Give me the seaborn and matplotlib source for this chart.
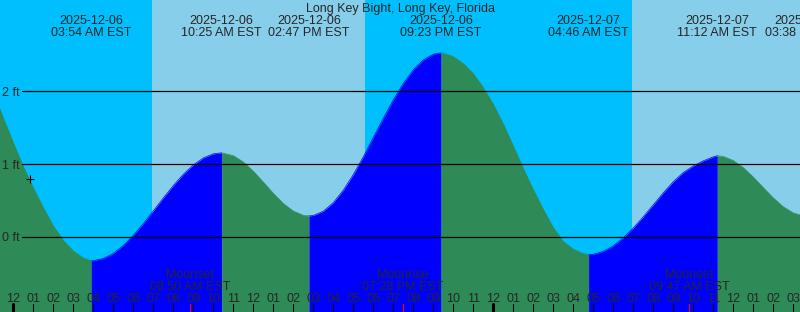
import numpy as np
import pandas as pd
import matplotlib
matplotlib.use("Agg")
import matplotlib.pyplot as plt
import seaborn as sns

# ---------------- data (hours since 2025-12-06 00:00 EST) ----------------
title = "Long Key Bight, Long Key, Florida"

tide_hours = [-1, -0.5, 0, 0.5, 1, 1.5, 2, 2.5, 3, 3.5, 3.9, 4, 4.5, 5, 5.5, 6,
              6.5, 7, 7.5, 8, 8.5, 9, 9.5, 10, 10.417, 11, 11.5, 12, 12.5, 13,
              13.5, 14, 14.5, 14.783, 15, 15.5, 16, 16.5, 17, 17.5, 18, 18.5,
              19, 19.5, 20, 20.5, 21, 21.383, 21.5, 22, 22.5, 23, 23.5, 24,
              24.5, 25, 25.5, 26, 26.5, 27, 27.5, 28, 28.5, 28.767, 29, 29.5,
              30, 30.5, 31, 31.5, 32, 32.5, 33, 33.5, 34, 34.5, 35, 35.2, 35.5,
              36, 36.5, 37, 37.5, 38, 38.5, 39, 39.5, 39.633]
tide_ft = [1.98, 1.635, 1.295, 0.97, 0.675, 0.405, 0.155, -0.045, -0.19,
           -0.285, -0.325, -0.324, -0.294, -0.224, -0.116, 0.023, 0.184,
           0.359, 0.536, 0.707, 0.861, 0.989, 1.085, 1.141, 1.155, 1.117,
           1.030, 0.903, 0.754, 0.600, 0.461, 0.357, 0.299, 0.29, 0.296,
           0.354, 0.472, 0.643, 0.857, 1.101, 1.364, 1.628, 1.880, 2.106,
           2.293, 2.429, 2.507, 2.525, 2.522, 2.475, 2.38, 2.24, 2.05, 1.82,
           1.55, 1.25, 0.94, 0.65, 0.38, 0.13, -0.06, -0.165, -0.225, -0.24,
           -0.236, -0.197, -0.121, -0.011, 0.125, 0.279, 0.443, 0.607, 0.760,
           0.885, 0.975, 1.045, 1.100, 1.115, 1.106, 1.050, 0.952, 0.823,
           0.678, 0.537, 0.416, 0.331, 0.292, 0.29]

event_hours = [3.9, 10.417, 14.783, 21.383, 28.767, 35.2, 39.633]
event_dates = ["2025-12-06", "2025-12-06", "2025-12-06", "2025-12-06",
               "2025-12-07", "2025-12-07", "2025-12-07"]
event_times = ["03:54 AM EST", "10:25 AM EST", "02:47 PM EST", "09:23 PM EST",
               "04:46 AM EST", "11:12 AM EST", "03:38 PM EST"]

sunrise_hours = [6.93, 30.93]
sunset_hours = [17.58, 41.58]

moon_hours = [8.833, 19.467, 33.783]
moon_events = ["Moonset", "Moonrise", "Moonset"]
moon_times = ["08:50 AM EST", "07:28 PM EST", "09:47 AM EST"]

grid_levels = [0, 1, 2]
grid_labels = ["0 ft", "1 ft", "2 ft"]

hour_ticks = list(range(0, 40))
hour_labels = (["12", "01", "02", "03", "04", "05", "06", "07", "08", "09",
                "10", "11"] * 4)[:40]
midnight_ticks = [0, 24]

now_hour = [0.835]
now_level = [0.795]

x_range = (-0.665, 39.335)
y_range = (-1.027, 3.25)

# ---------------- style ----------------
NIGHT = "#00BFFF"
DAY = "#87CEEB"
FALL = "#2E8B57"
RISE = "#0000FF"

sns.set_style("white")
plt.rcParams["font.family"] = ["Liberation Sans", "DejaVu Sans"]
FS = 9

fig = plt.figure(figsize=(8, 3.12), dpi=100)
ax = fig.add_axes([0, 0, 1, 1])
ax.set_xlim(*x_range)
ax.set_ylim(*y_range)
ax.set_facecolor(NIGHT)
for s in ax.spines.values():
    s.set_visible(False)

# day shading
for sr, ss in zip(sunrise_hours, sunset_hours):
    ax.axvspan(sr, ss, color=DAY, lw=0, zorder=0)

# tide data frame with rising / falling segments
t = np.array(tide_hours)
y = np.array(tide_ft)
bounds = [tide_hours[0]] + event_hours
rows = []
for i in range(len(bounds) - 1):
    a, b = bounds[i], bounds[i + 1]
    m = (t >= a) & (t <= b)
    phase = "rise" if y[m][-1] > y[m][0] else "fall"
    for tt, yy in zip(t[m], y[m]):
        rows.append({"hour": tt, "level": yy, "phase": phase, "seg": i})
df = pd.DataFrame(rows)
palette = {"rise": RISE, "fall": FALL}

for seg, g in df.groupby("seg"):
    ax.fill_between(g["hour"], y_range[0], g["level"],
                    color=palette[g["phase"].iloc[0]], lw=0, zorder=1)
sns.lineplot(data=df, x="hour", y="level", hue="phase", units="seg",
             estimator=None, palette=palette, lw=0.5, legend=False, ax=ax,
             zorder=1.5)
ax.set_xlim(*x_range)
ax.set_ylim(*y_range)
ax.set_xlabel("")
ax.set_ylabel("")
ax.set_xticks([])
ax.set_yticks([])

# grid lines and labels
for lv, lab in zip(grid_levels, grid_labels):
    ax.axhline(lv, xmin=22 / 800, xmax=1, color="black", lw=0.9, zorder=2)
    ax.text(x_range[0] + 2 / 20, lv - 4.4 / 73, lab, fontsize=FS,
            ha="left", va="baseline", zorder=3)

# current-time marker
ax.plot(now_hour, now_level, marker="+", color="black", ms=6, mew=0.8,
        ls="none", zorder=3)

xt = ax.get_xaxis_transform()
# title and tide event labels
ax.text(0.5, 1 - 11.7 / 312, title, transform=ax.transAxes, ha="center",
        va="baseline", fontsize=FS, zorder=3)
for h, d, tm in zip(event_hours, event_dates, event_times):
    ax.text(h, 1 - 24 / 312, d, transform=xt, ha="center", va="baseline",
            fontsize=FS, zorder=3)
    ax.text(h, 1 - 36 / 312, tm, transform=xt, ha="center", va="baseline",
            fontsize=FS, zorder=3)

# moon labels and red ticks
for h, ev, tm in zip(moon_hours, moon_events, moon_times):
    ax.text(h, 1 - 277.7 / 312, ev, transform=xt, ha="center", va="baseline",
            fontsize=FS, zorder=3)
    ax.text(h, 1 - 290 / 312, tm, transform=xt, ha="center", va="baseline",
            fontsize=FS, zorder=3)
    ax.axvline(h, ymin=0, ymax=8 / 312, color="red", lw=0.8, zorder=3)

# hour ticks and labels
for h, lab in zip(hour_ticks, hour_labels):
    wide = h in midnight_ticks
    ax.axvline(h, ymin=0, ymax=8 / 312, color="black",
               lw=2.2 if wide else 0.8, zorder=3)
    ax.text(h, 1 - 301.7 / 312, lab, transform=xt, ha="center",
            va="baseline", fontsize=FS, zorder=3)

fig.savefig("out.png", dpi=100)
